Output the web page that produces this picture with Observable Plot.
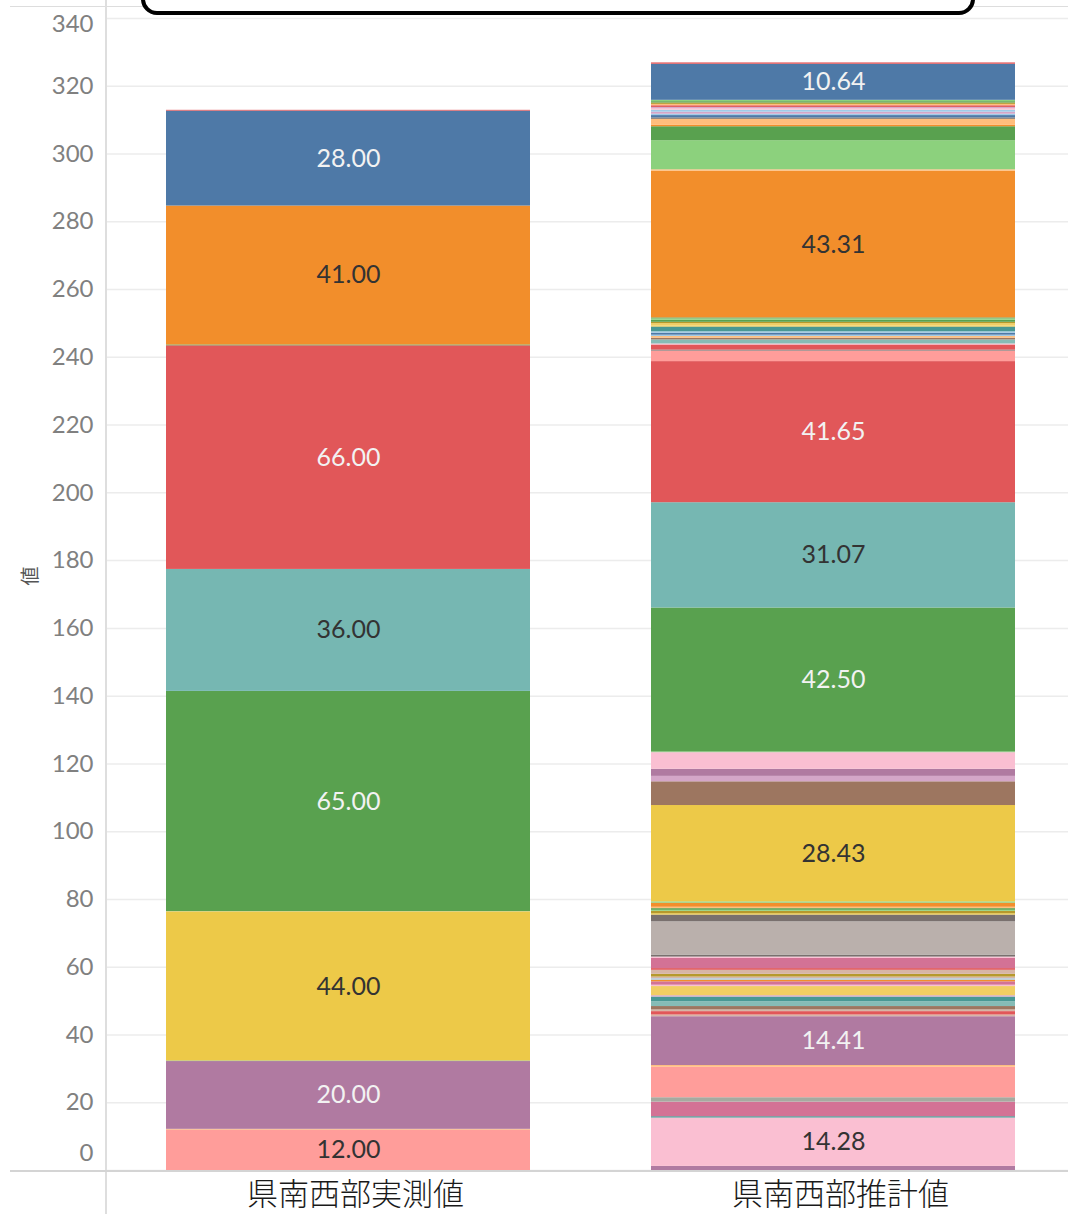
<!DOCTYPE html>
<html>
<head>
<meta charset="utf-8">
<script src="https://cdn.jsdelivr.net/npm/d3@7"></script>
<script src="https://cdn.jsdelivr.net/npm/@observablehq/plot@0.6"></script>
<style>
  html, body { margin: 0; padding: 0; background: #fff; }
  #wrap { position: relative; width: 1068px; height: 1214px; overflow: hidden; background: #fff; }
  #wrap svg { position: absolute; left: 0; top: 0; }
  .deco { position: absolute; }
</style>
</head>
<body>
<div id="wrap"></div>
<script>
// ---- data ----
const bars = ["県南西部実測値", "県南西部推計値"];

// segment categories (bottom to top) and values
const actualKeys   = ["L", "H", "Q", "I", "U", "H", "E", "V", "K", "E", "C", "A", "K"];
const actualValues = [12, 0.15, 20, 0.15, 44, 0.1, 65, 36, 66, 0.25, 41, 28, 0.25];

const estimateKeys = [
  "Q", "P", "I", "O", "W", "L", "D", "Q", "T", "K",
  "T", "S", "J", "I", "R", "H", "P", "O", "C", "B",
  "T", "G", "T", "K", "O", "P", "M", "N", "M", "U",
  "G", "F", "E", "D", "C", "F", "U", "S", "R", "Q",
  "P", "F", "E", "V", "K", "L", "M", "K", "P", "J",
  "S", "D", "B", "A", "B", "I", "U", "H", "G", "E",
  "F", "E", "C", "D", "F", "E", "C", "D", "M", "A",
  "B", "R", "B", "P", "R", "K", "D", "G", "E", "F",
  "A", "K"
];
const estimateValues = [
  1.2, 14.28, 0.4, 4.3, 1.3, 9.0, 0.5, 14.41, 0.5, 1.0,
  0.5, 1.0, 1.4, 1.4, 0.4, 2.7, 0.4, 1.0, 0.5, 0.4,
  0.5, 0.8, 1.2, 0.5, 3.0, 0.4, 0.6, 9.8, 2.0, 0.4,
  0.7, 0.3, 0.5, 0.4, 1.2, 0.4, 28.43, 7.0, 1.6, 2.1,
  4.9, 0.2, 42.50, 31.07, 41.65, 3.1, 0.3, 1.5, 0.3, 1.2,
  0.5, 0.5, 0.4, 0.6, 0.4, 1.4, 0.3, 0.7, 0.4, 0.6,
  0.4, 0.3, 43.31, 0.4, 8.6, 4.1, 0.4, 1.8, 0.4, 0.7,
  0.4, 0.6, 0.6, 0.5, 0.3, 0.5, 0.4, 0.4, 0.4, 0.4,
  10.64, 0.4
];

const yTicks = [0, 20, 40, 60, 80, 100, 120, 140, 160, 180, 200, 220, 240, 260, 280, 300, 320, 340];

// category -> colour
const colorKeys  = ["A", "B", "C", "D", "E", "F", "G", "H", "I", "J", "K", "L", "M", "N", "O", "P", "Q", "R", "S", "T", "U", "V", "W"];
const colorRange = ["#4e79a7", "#a0cbe8", "#f28e2b", "#ffbe7d", "#59a14f", "#8cd17d", "#b6992d", "#f1ce63",
                    "#499894", "#86bcb6", "#e15759", "#ff9d9a", "#79706e", "#bab0ac", "#d37295", "#fabfd2",
                    "#b07aa1", "#d4a6c8", "#9d7660", "#d7b5a6", "#edc948", "#76b7b2", "#a6aaa0"];
const darkKeys = new Set(["A", "E", "K", "Q"]);

// ---- build table ----
const rows = [];
actualKeys.forEach((k, i) => rows.push({bar: bars[0], key: k, value: actualValues[i]}));
estimateKeys.forEach((k, i) => rows.push({bar: bars[1], key: k, value: estimateValues[i]}));

const tickStyle = {tickSize: 0, tickPadding: 13, fontSize: 24, fill: "#808080", label: null};

const chart = Plot.plot({
  width: 1068,
  height: 1214,
  marginLeft: 106,
  marginRight: 0,
  marginTop: 18,
  marginBottom: 44,
  style: {fontFamily: "Lato, 'Noto Sans CJK JP', sans-serif", background: "transparent", overflow: "visible"},
  x: {domain: bars, paddingInner: 0.2495, paddingOuter: 0.1165, align: 0.53, axis: null},
  y: {domain: [0, 340], axis: null},
  color: {domain: colorKeys, range: colorRange},
  marks: [
    Plot.gridY(yTicks, {stroke: "#ececec", strokeOpacity: 1, strokeWidth: 1.5}),
    Plot.barY(rows, {x: "bar", y: "value", fill: "key"}),
    Plot.text(rows, Plot.stackY({
      x: "bar",
      y: "value",
      text: d => d.value >= 10 ? d.value.toFixed(2) : "",
      fill: d => darkKeys.has(d.key) ? "#f2f2f2" : "#333333",
      fontSize: 25
    })),
    Plot.axisY(yTicks.filter(t => t > 0 && t < 340), tickStyle),
    Plot.axisY([0], {...tickStyle, dy: -17}),
    Plot.axisY([340], {...tickStyle, dy: 6}),
    Plot.axisX({tickSize: 0, tickPadding: 12, fontSize: 31, fontWeight: 300, fill: "#1a1a1a", label: null, dx: 7}),
    Plot.text(["値"], {frameAnchor: "left", dx: -76, dy: -9, rotate: -90, fontSize: 19, fill: "#555"})
  ]
});

const wrap = document.getElementById("wrap");
wrap.appendChild(chart);

function deco(css) {
  const d = document.createElement("div");
  d.className = "deco";
  Object.assign(d.style, css);
  wrap.appendChild(d);
  return d;
}
// pane borders / axis lines
deco({left: "10px", top: "6px", width: "1058px", height: "0", borderTop: "1.5px solid #dddddd"});
deco({left: "105px", top: "0px", width: "0", height: "1214px", borderLeft: "2px solid #dedede"});
deco({left: "10px", top: "1170px", width: "1058px", height: "0", borderTop: "2px solid #d4d4d4"});
// cut-off rounded box at top
deco({left: "141px", top: "-30px", width: "834px", height: "45px", boxSizing: "border-box",
      border: "4px solid #000", borderRadius: "16px", background: "#fff"});
</script>
</body>
</html>
